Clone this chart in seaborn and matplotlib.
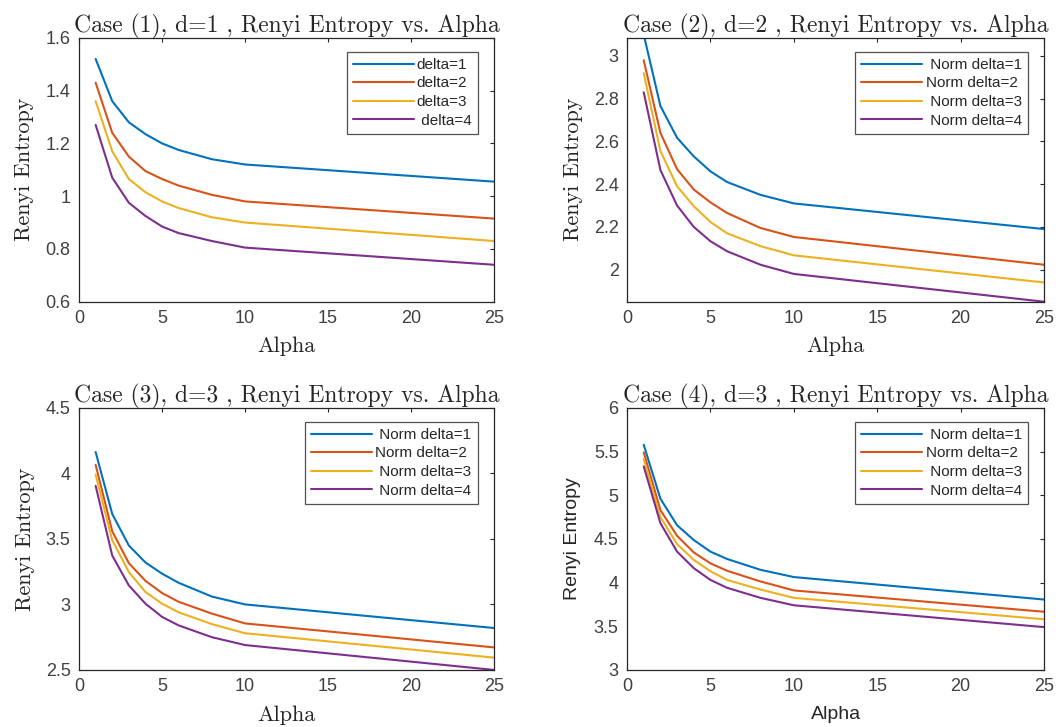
import numpy as np
import pandas as pd
import matplotlib
matplotlib.use('Agg')
import matplotlib.pyplot as plt
import seaborn as sns

sns.set_style('white')

# dados
alpha = [1, 2, 3, 4, 5, 6, 8, 10, 25]

case1_d1 = [1.52, 1.36, 1.28, 1.235, 1.20, 1.175, 1.14, 1.12, 1.055]
case1_d2 = [1.43, 1.24, 1.15, 1.095, 1.065, 1.04, 1.005, 0.98, 0.915]
case1_d3 = [1.36, 1.17, 1.065, 1.015, 0.98, 0.955, 0.92, 0.90, 0.83]
case1_d4 = [1.27, 1.07, 0.975, 0.925, 0.885, 0.86, 0.83, 0.805, 0.74]

case2_d1 = [3.10, 2.766, 2.617, 2.53, 2.46, 2.41, 2.35, 2.31, 2.19]
case2_d2 = [2.98, 2.64, 2.47, 2.375, 2.315, 2.265, 2.195, 2.153, 2.023]
case2_d3 = [2.92, 2.555, 2.39, 2.297, 2.223, 2.17, 2.11, 2.067, 1.94]
case2_d4 = [2.83, 2.466, 2.30, 2.20, 2.133, 2.086, 2.023, 1.98, 1.85]

case3_d1 = [4.163, 3.69, 3.45, 3.32, 3.235, 3.165, 3.06, 3.0, 2.82]
case3_d2 = [4.065, 3.558, 3.315, 3.18, 3.087, 3.02, 2.93, 2.855, 2.672]
case3_d3 = [3.99, 3.49, 3.247, 3.095, 3.006, 2.94, 2.85, 2.78, 2.594]
case3_d4 = [3.905, 3.373, 3.145, 3.006, 2.905, 2.84, 2.75, 2.69, 2.50]

case4_d1 = [5.576, 4.96, 4.656, 4.487, 4.354, 4.27, 4.146, 4.063, 3.806]
case4_d2 = [5.49, 4.83, 4.535, 4.345, 4.22, 4.135, 4.013, 3.91, 3.666]
case4_d3 = [5.414, 4.75, 4.44, 4.26, 4.13, 4.03, 3.92, 3.825, 3.58]
case4_d4 = [5.33, 4.68, 4.354, 4.165, 4.03, 3.94, 3.825, 3.74, 3.49]

labels1 = ['delta=1', 'delta=2', 'delta=3', ' delta=4']
labels_norm = [' Norm delta=1', 'Norm delta=2', ' Norm delta=3', ' Norm delta=4']

titles = ['Case (1), d=1 , Renyi Entropy vs. Alpha',
          'Case (2), d=2 , Renyi Entropy vs. Alpha',
          'Case (3), d=3 , Renyi Entropy vs. Alpha',
          'Case (4), d=3 , Renyi Entropy vs. Alpha']

ylims = [(0.6, 1.6), (1.85, 3.085), (2.5, 4.5), (3, 6)]
yticks = [[0.6, 0.8, 1, 1.2, 1.4, 1.6], [2, 2.2, 2.4, 2.6, 2.8, 3],
          [2.5, 3, 3.5, 4, 4.5], [3, 3.5, 4, 4.5, 5, 5.5, 6]]

cores = ['#0072BD', '#D95319', '#EDB120', '#7E2F8E']

dados = [[case1_d1, case1_d2, case1_d3, case1_d4],
         [case2_d1, case2_d2, case2_d3, case2_d4],
         [case3_d1, case3_d2, case3_d3, case3_d4],
         [case4_d1, case4_d2, case4_d3, case4_d4]]

posicoes = [[0.0745, 0.585, 0.391, 0.363],
            [0.591, 0.585, 0.393, 0.363],
            [0.0745, 0.0785, 0.391, 0.3605],
            [0.591, 0.0785, 0.393, 0.3605]]

serif = 'cmr10'
sans = 'Liberation Sans'
axcolor = '#262626'

fig = plt.figure(figsize=(10.61, 7.27), dpi=100)

for i in range(4):
    ax = fig.add_axes(posicoes[i])
    labs = labels1 if i == 0 else labels_norm
    for serie, cor, lab in zip(dados[i], cores, labs):
        sns.lineplot(x=alpha, y=serie, ax=ax, color=cor, label=lab, linewidth=1.5)
    ax.set_xlim(0, 25)
    ax.set_ylim(*ylims[i])
    ax.set_xticks([0, 5, 10, 15, 20, 25])
    ax.set_yticks(yticks[i])
    ax.set_yticklabels([('%g' % t) for t in yticks[i]])
    ax.tick_params(direction='in', top=True, right=True, length=3, width=0.8,
                   colors=axcolor, labelsize=13, pad=6)
    for lbl in ax.get_xticklabels() + ax.get_yticklabels():
        lbl.set_family(sans)
        lbl.set_color('#404040')
    for sp in ax.spines.values():
        sp.set_color(axcolor)
        sp.set_linewidth(0.9)
    ax.set_title(titles[i], family=serif, fontsize=17, color=axcolor, pad=4)
    if i == 3:
        ax.set_ylabel('Renyi Entropy', family=sans, fontsize=14, color=axcolor, labelpad=9)
        ax.set_xlabel('Alpha', family=sans, fontsize=14, color=axcolor, labelpad=8)
    else:
        ax.set_ylabel('Renyi Entropy', family=serif, fontsize=16, color=axcolor, labelpad=8)
        ax.set_xlabel('Alpha', family=serif, fontsize=16, color=axcolor, labelpad=7)
    leg = ax.legend(loc='upper right', bbox_to_anchor=(0.961, 0.947), borderaxespad=0,
                    fancybox=False, frameon=True, prop={'family': sans, 'size': 11},
                    handlelength=4.0, handletextpad=0.2, borderpad=0.4,
                    labelspacing=0.3)
    leg.get_frame().set_edgecolor(axcolor)
    leg.get_frame().set_linewidth(0.9)
    for t in leg.get_texts():
        t.set_color(axcolor)

fig.savefig('out.png', dpi=100)
